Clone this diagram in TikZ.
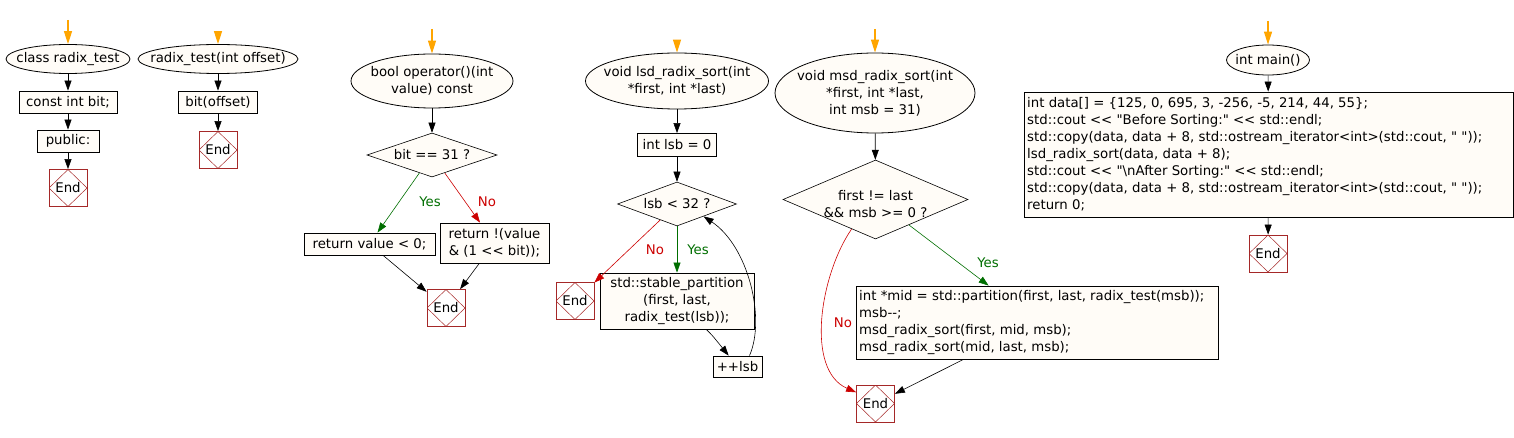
\documentclass[tikz,border=0pt]{standalone}
\usepackage{fontspec}
\setmainfont{DejaVu Sans}[Ligatures=TeXOff]
\usetikzlibrary{shapes.geometric,arrows.meta}
\definecolor{fillc}{RGB}{255,252,247}
\definecolor{endred}{RGB}{165,40,40}
\definecolor{yesg}{RGB}{0,110,0}
\definecolor{nor}{RGB}{204,0,0}
\definecolor{orng}{RGB}{255,165,0}
\begin{document}
\begin{tikzpicture}[x=1pt,y=-1pt,
  font=\fontsize{13.3}{17}\selectfont,
  every node/.style={inner sep=0pt},
  box/.style={draw, fill=fillc, line width=0.8pt, minimum height=22pt, align=center},
  ellip/.style={draw, fill=fillc, ellipse, line width=0.8pt},
  dia/.style={draw, fill=fillc, diamond, line width=0.6pt},
  txt/.style={align=center},
  endb/.style={draw=endred, fill=white, minimum width=38pt, minimum height=37pt, line width=0.8pt,
    path picture={\draw[endred, line width=0.5pt] (path picture bounding box.north) -- (path picture bounding box.east) -- (path picture bounding box.south) -- (path picture bounding box.west) -- cycle;}},
  arr/.style={-{Triangle[length=10pt,width=7pt]}, line width=0.6pt},
  start/.style={draw=orng, line width=1.3pt, -{Triangle[length=13pt,width=8pt,fill=orng]}},
  yes/.style={text=yesg},
  no/.style={text=nor}
]
\useasboundingbox (0,0) rectangle (1514,438);

% ---------- column 1
\node[ellip, minimum width=124pt, minimum height=29pt] (c1) at (68,59) {};
\node[txt] (c1t) at (c1) {class radix\_test};
\node[box, minimum width=98pt] (c1a) at (68,102) {const int bit;};
\node[box, minimum width=62pt] (c1b) at (68,141) {public:};
\node[endb] (c1e) at (68,188) {End};
\coordinate (s1) at (68,20);
\draw[start] (s1) -- (c1);
\draw[arr] (c1) -- (c1a);
\draw[arr] (c1a) -- (c1b);
\draw[arr] (c1b) -- (c1e);

% ---------- column 2
\node[ellip, minimum width=160pt, minimum height=29pt] (c2) at (218,59) {};
\node[txt] (c2t) at (c2) {radix\_test(int offset)};
\node[box, minimum width=79pt] (c2a) at (218,102) {bit(offset)};
\node[endb] (c2e) at (218,150) {End};
\coordinate (s2) at (218,31);
\draw[start] (s2) -- (c2);
\draw[arr] (c2) -- (c2a);
\draw[arr] (c2a) -- (c2e);

% ---------- column 3
\node[ellip, minimum width=162pt, minimum height=54pt] (c3) at (432,81) {};
\node[txt] (c3t) at (c3) {bool operator()(int\\value) const};
\node[dia, minimum width=130pt, minimum height=44pt] (d3) at (432,155) {};
\node[txt] (d3t) at (d3) {bit == 31 ?};
\node[box, minimum width=131pt] (r1) at (369.5,244) {return value < 0;};
\node[box, minimum width=109pt, minimum height=40pt] (r2) at (494.5,243) {return !(value\\\& (1 << bit));};
\node[endb] (c3e) at (446,308) {End};
\coordinate (s3) at (432,29);
\draw[start] (s3) -- (c3);
\draw[arr] (c3) -- (d3);
\draw[arr, yesg] (d3) -- (r1);
\draw[arr, nor] (d3) -- (r2);
\node[yes] (y3) at (430,202) {Yes};
\node[no] (n3) at (487,202) {No};
\draw[arr] (r1) -- (c3e);
\draw[arr] (r2) -- (c3e);

% ---------- column 4
\node[ellip, minimum width=183pt, minimum height=56pt] (c4) at (677,81) {};
\node[txt] (c4t) at (c4) {void lsd\_radix\_sort(int\\*first, int *last)};
\node[box, minimum width=79pt, minimum height=23pt] (c4a) at (677,145) {int lsb = 0};
\node[dia, minimum width=119pt, minimum height=44pt] (d4) at (677,204) {};
\node[txt] (d4t) at (d4) {lsb < 32 ?};
\node[endb] (c4e) at (575,301) {End};
\node[box, minimum width=154pt, minimum height=56pt] (sp) at (677,301) {std::stable\_partition\\(first, last,\\radix\_test(lsb));};
\node[box, minimum width=49pt, minimum height=21pt] (inc) at (737.5,366.5) {++lsb};
\coordinate (s4) at (677,40);
\draw[start] (s4) -- (c4);
\draw[arr] (c4) -- (c4a);
\draw[arr] (c4a) -- (d4);
\draw[arr, yesg] (d4) -- (sp);
\draw[arr, nor] (d4) -- (c4e);
\node[no] (n4) at (655,250) {No};
\node[yes] (y4) at (698,250) {Yes};
\draw[arr] (sp) .. controls (712,335) .. (inc);
\draw[arr] ([xshift=12pt]inc.north) .. controls (766,318) and (748,246) .. (d4.-25);

% ---------- column 5
\node[ellip, minimum width=200pt, minimum height=80pt] (c5) at (875,93) {};
\node[txt] (c5t) at (c5) {void msd\_radix\_sort(int\\*first, int *last,\\int msb = 31)};
\node[dia, minimum width=185pt, minimum height=79pt] (d5) at (875.5,199.5) {};
\node[txt] (d5t) at (875.5,204) {first != last\\\&\& msb >= 0 ?};
\node[box, minimum width=362pt, minimum height=73pt] (b5) at (1037,322.5) {};
\node[align=left, anchor=west] (b5t) at (859,322.5) {int *mid = std::partition(first, last, radix\_test(msb));\\msb--;\\msd\_radix\_sort(first, mid, msb);\\msd\_radix\_sort(mid, last, msb);};
\node[endb] (c5e) at (875.5,403.5) {End};
\coordinate (s5) at (875,29);
\draw[start] (s5) -- (c5);
\draw[arr] (c5) -- (d5);
\draw[arr, yesg] (d5) -- (b5);
\node[yes] (y5) at (988,263) {Yes};
\draw[arr, nor] (d5.-129) .. controls (820,275) and (805,370) .. (c5e.150);
\node[no] (n5) at (843,323) {No};
\draw[arr] (b5) -- (c5e);

% ---------- column 6
\node[ellip, minimum width=83pt, minimum height=30pt] (c6) at (1268,60) {};
\node[txt] (c6t) at (c6) {int main()};
\node[box, minimum width=489pt, minimum height=125pt] (b6) at (1268.5,154.5) {};
\node[align=left, anchor=west] (b6t) at (1027,154.5) {int data[] = \{125, 0, 695, 3, -256, -5, 214, 44, 55\};\\std::cout << "Before Sorting:" << std::endl;\\std::copy(data, data + 8, std::ostream\_iterator<int>(std::cout, " "));\\lsd\_radix\_sort(data, data + 8);\\std::cout << "\textbackslash nAfter Sorting:" << std::endl;\\std::copy(data, data + 8, std::ostream\_iterator<int>(std::cout, " "));\\return 0;};
\node[endb] (c6e) at (1268,253.5) {End};
\coordinate (s6) at (1268,21);
\draw[start] (s6) -- (c6);
\draw[arr] (c6) -- (b6);
\draw[arr] (b6) -- (c6e);
\end{tikzpicture}
\end{document}
